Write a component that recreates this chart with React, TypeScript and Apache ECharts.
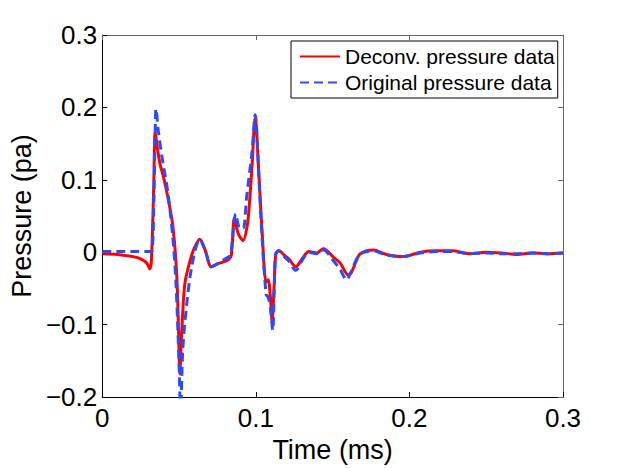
import React, { useEffect, useRef } from "react";
import * as echarts from "echarts";

const timeDeconv = [0, 0.01, 0.02, 0.025, 0.029, 0.031, 0.032, 0.0335, 0.0345, 0.036, 0.0375, 0.04, 0.043, 0.046, 0.0485, 0.05, 0.0505, 0.0515, 0.0537, 0.0569, 0.06, 0.0635, 0.067, 0.071, 0.075, 0.0815, 0.084, 0.086, 0.0885, 0.0918, 0.0945, 0.0957, 0.0975, 0.0996, 0.102, 0.104, 0.1067, 0.108, 0.1095, 0.1106, 0.112, 0.113, 0.115, 0.1185, 0.1215, 0.126, 0.1305, 0.1345, 0.1397, 0.144, 0.1506, 0.155, 0.16, 0.162, 0.165, 0.168, 0.1765, 0.185, 0.196, 0.207, 0.2175, 0.228, 0.239, 0.25, 0.26, 0.27, 0.28, 0.29, 0.3];
const deconvValues = [-0.002, -0.003, -0.006, -0.009, -0.015, -0.023, -0.012, 0.088, 0.166, 0.143, 0.123, 0.103, 0.073, 0.036, -0.031, -0.132, -0.168, -0.122, -0.045, -0.014, 0.006, 0.018, 0.003, -0.020, -0.016, -0.011, -0.004, 0.047, 0.026, 0.016, 0.038, 0.063, 0.118, 0.186, 0.108, 0.032, -0.041, -0.038, -0.062, -0.095, -0.042, -0.002, 0.002, -0.004, -0.009, -0.020, -0.008, 0.001, -0.001, 0.005, -0.007, -0.015, -0.031, -0.029, -0.014, -0.002, 0.003, -0.003, -0.006, 0.000, 0.002, 0.002, -0.002, 0.000, -0.001, -0.003, -0.001, -0.002, -0.001];

const timeOriginal = [0, 0.01, 0.02, 0.031, 0.0325, 0.0335, 0.0345, 0.035, 0.0365, 0.0388, 0.0427, 0.0459, 0.048, 0.05, 0.051, 0.0525, 0.055, 0.0585, 0.0635, 0.067, 0.071, 0.075, 0.081, 0.0835, 0.087, 0.0895, 0.0918, 0.094, 0.0975, 0.0996, 0.102, 0.104, 0.1067, 0.108, 0.1095, 0.111, 0.112, 0.113, 0.115, 0.1185, 0.1215, 0.126, 0.1305, 0.1345, 0.1397, 0.144, 0.1506, 0.155, 0.159, 0.162, 0.165, 0.168, 0.1765, 0.185, 0.196, 0.207, 0.2175, 0.228, 0.239, 0.25, 0.26, 0.27, 0.28, 0.29, 0.3];
const originalValues = [0.001, 0.001, 0.001, 0.001, 0.002, 0.058, 0.168, 0.198, 0.168, 0.133, 0.083, 0.022, -0.042, -0.152, -0.22, -0.132, -0.072, -0.017, 0.018, 0.003, -0.020, -0.016, -0.008, -0.004, 0.053, 0.033, 0.033, 0.076, 0.138, 0.190, 0.103, 0.023, -0.058, -0.062, -0.077, -0.108, -0.052, -0.002, 0.002, -0.006, -0.012, -0.025, -0.010, 0.000, -0.002, 0.003, -0.012, -0.024, -0.038, -0.027, -0.012, -0.002, 0.002, -0.004, -0.006, -0.001, 0.001, 0.001, -0.002, -0.001, -0.002, -0.002, -0.001, -0.002, -0.001];

const xTicks = { min: 0, max: 0.3, interval: 0.1 };
const yTicks = { min: -0.2, max: 0.3, interval: 0.1 };

const seriesNames = ["Deconv. pressure data", "Original pressure data"];
const FONT = "'Liberation Sans', Arial, Helvetica, sans-serif";

const fmt = (v: number) => {
  const n = Number(v.toFixed(1));
  return (n < 0 ? "\u2212" : "") + String(Math.abs(n));
};

export default function App() {
  const ref = useRef<HTMLDivElement>(null);
  useEffect(() => {
    if (!ref.current) return;
    const chart = echarts.init(ref.current, null, { renderer: "svg" });
    const axisLine = (c: string) => ({ show: true, onZero: false, lineStyle: { color: c, width: 1 } });
    chart.setOption({
      animation: false,
      backgroundColor: "#ffffff",
      textStyle: { fontFamily: FONT },
      grid: { left: 98, right: 59, top: 35, bottom: 65, containLabel: false },
      legend: {
        orient: "vertical",
        left: 291,
        top: 41,
        padding: [5, 3, 5, 8],
        itemGap: 5,
        itemWidth: 40,
        itemHeight: 14,
        borderColor: "#000",
        borderWidth: 1,
        backgroundColor: "#fff",
        selectedMode: false,
        itemStyle: { opacity: 0 },
        textStyle: { fontFamily: FONT, fontSize: 21, color: "#000", lineHeight: 20 },
        data: seriesNames,
      },
      xAxis: [
        {
          type: "value",
          ...xTicks,
          name: "Time (ms)",
          nameLocation: "middle",
          nameGap: 35,
          nameTextStyle: { fontFamily: FONT, fontSize: 27, color: "#000" },
          axisLine: axisLine("#000"),
          axisTick: { show: true, inside: true, length: 5, lineStyle: { color: "#000" } },
          axisLabel: { fontFamily: FONT, fontSize: 26, color: "#000", margin: 8, formatter: fmt },
          splitLine: { show: false },
        },
        {
          type: "value",
          position: "top",
          ...xTicks,
          axisLine: axisLine("#666"),
          axisTick: { show: true, inside: true, length: 5, lineStyle: { color: "#666" } },
          axisLabel: { show: false },
          splitLine: { show: false },
        },
      ],
      yAxis: [
        {
          type: "value",
          ...yTicks,
          name: "Pressure (pa)",
          nameLocation: "middle",
          nameGap: 56,
          nameTextStyle: { fontFamily: FONT, fontSize: 27, color: "#000" },
          axisLine: axisLine("#000"),
          axisTick: { show: true, inside: true, length: 5, lineStyle: { color: "#000" } },
          axisLabel: { fontFamily: FONT, fontSize: 26, color: "#000", margin: 5, formatter: fmt },
          splitLine: { show: false },
        },
        {
          type: "value",
          position: "right",
          ...yTicks,
          axisLine: axisLine("#666"),
          axisTick: { show: true, inside: true, length: 5, lineStyle: { color: "#666" } },
          axisLabel: { show: false },
          splitLine: { show: false },
        },
      ],
      series: [
        {
          name: seriesNames[0],
          type: "line",
          data: timeDeconv.map((t, i) => [t, deconvValues[i]]),
          showSymbol: false,
          symbol: "none",
          smooth: 0.3,
          clip: true,
          lineStyle: { color: "#ff0000", width: 3, type: "solid" },
          itemStyle: { color: "#ff0000" },
          z: 2,
        },
        {
          name: seriesNames[1],
          type: "line",
          data: timeOriginal.map((t, i) => [t, originalValues[i]]),
          showSymbol: false,
          symbol: "none",
          smooth: 0.3,
          clip: true,
          lineStyle: { color: "#2a4cff", width: 3, type: [9, 5] },
          itemStyle: { color: "#2a4cff" },
          z: 3,
        },
      ],
    });
    return () => chart.dispose();
  }, []);
  return <div ref={ref} style={{ width: 622, height: 468, position: "absolute", left: 0, top: 0 }} />;
}
